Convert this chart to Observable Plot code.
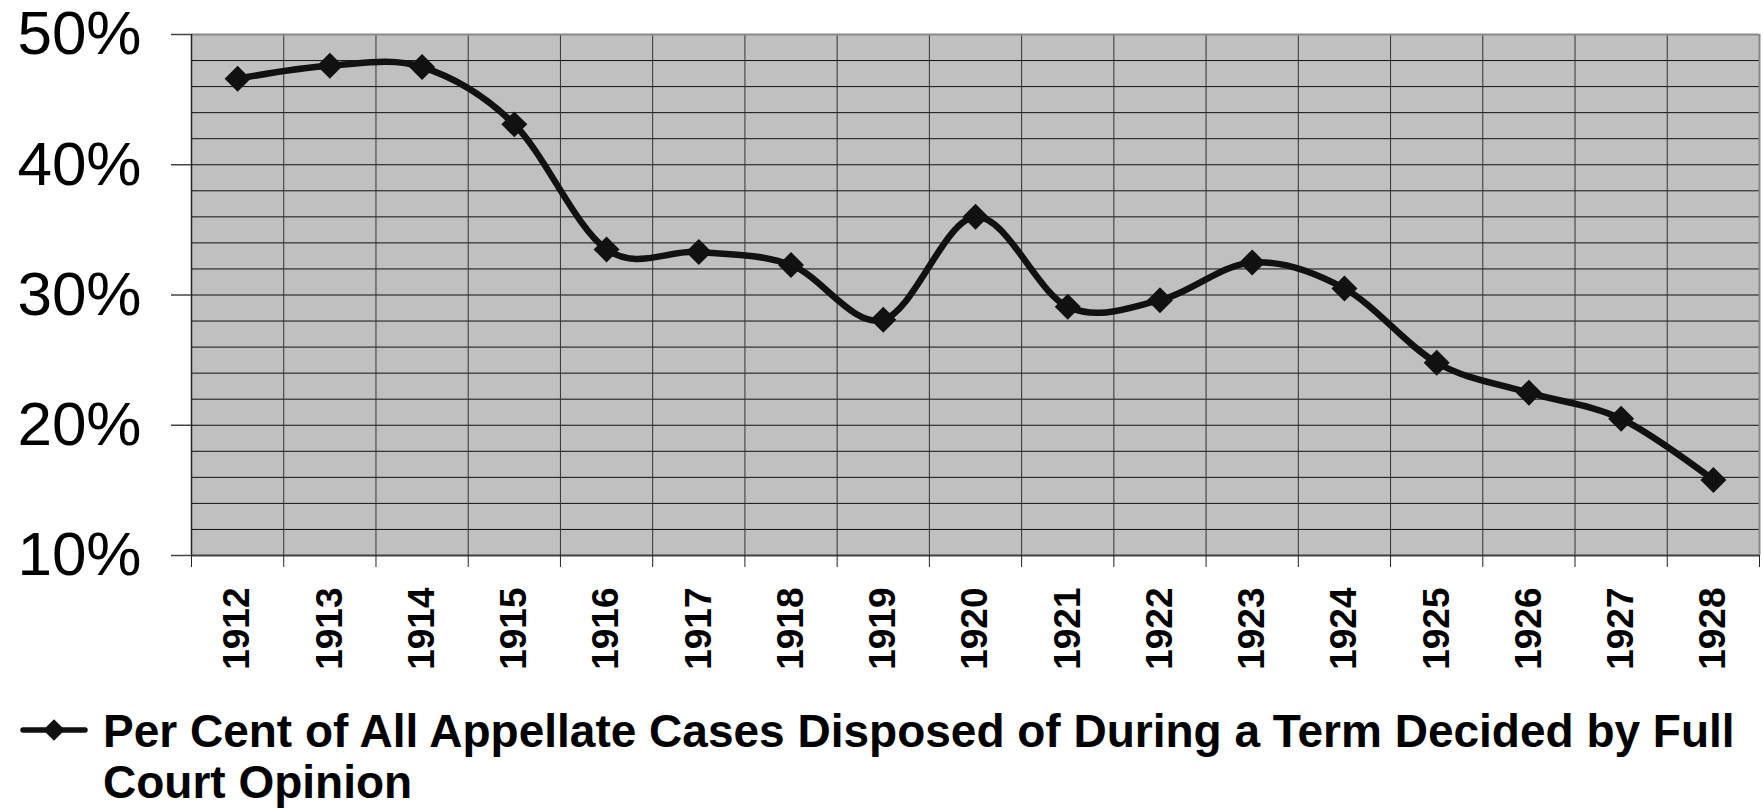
<!DOCTYPE html>
<html>
<head>
<meta charset="utf-8">
<script src="https://cdn.jsdelivr.net/npm/d3@7"></script>
<script src="https://cdn.jsdelivr.net/npm/@observablehq/plot@0.6"></script>
<style>
  html, body { margin: 0; padding: 0; background: #fff; }
  #chart svg { display: block; }
  #legend { position: relative; width: 1763px; height: 109px; font-family: "Liberation Sans", Arial, sans-serif; font-weight: bold; font-size: 46px; line-height: 51px; color: #000; }
  #legend .txt { position: absolute; left: 103px; top: 6px; white-space: nowrap; }
  #legend svg { position: absolute; left: 0; top: 0; }
</style>
</head>
<body>
<div id="chart"></div>
<div id="legend"></div>
<script>
const years = [1912, 1913, 1914, 1915, 1916, 1917, 1918, 1919, 1920, 1921, 1922, 1923, 1924, 1925, 1926, 1927, 1928];
const values = [46.6, 47.6, 47.5, 43.1, 33.5, 33.3, 32.3, 28.1, 36.0, 29.1, 29.6, 32.5, 30.5, 24.8, 22.5, 20.5, 15.8];
const yTicks = [10, 20, 30, 40, 50];
const seriesName = "Per Cent of All Appellate Cases Disposed of During a Term Decided by Full Court Opinion";
const legendLines = ["Per Cent of All Appellate Cases Disposed of During a Term Decided by Full", "Court Opinion"];

const data = years.map((year, i) => ({year, value: values[i], series: seriesName}));
const yMin = yTicks[0], yMax = yTicks[yTicks.length - 1];
const minorY = d3.range(yMin + 2, yMax, 2);
const xLo = years[0] - 0.5, xHi = years[years.length - 1] + 0.5;
const bounds = d3.range(xLo, xHi + 0.01, 1);
const innerBounds = bounds.slice(1, -1);

const chart = Plot.plot({
  width: 1763,
  height: 700,
  marginLeft: 191,
  marginRight: 4,
  marginTop: 34,
  marginBottom: 145,
  style: {background: "#fff", fontFamily: "'Liberation Sans', Arial, sans-serif", color: "#000"},
  x: {domain: [xLo, xHi], axis: null},
  y: {domain: [yMin, yMax], axis: null},
  marks: [
    Plot.frame({fill: "#c0c0c0", stroke: null}),
    Plot.ruleY(minorY, {stroke: "#111", strokeWidth: 1}),
    Plot.ruleX(innerBounds, {stroke: "#333", strokeWidth: 1}),
    Plot.ruleY([yMax], {stroke: "#888", strokeWidth: 2}),
    Plot.ruleX([xHi], {stroke: "#888", strokeWidth: 2}),
    Plot.ruleX([xLo], {stroke: "#222", strokeWidth: 1.5}),
    Plot.ruleY([yMin], {stroke: "#404040", strokeWidth: 2}),
    Plot.axisY(yTicks, {label: null, tickSize: 20, tickPadding: 30, fontSize: 62, tickFormat: d => d + "%", stroke: "#444", strokeWidth: 1.5}),
    Plot.axisX(bounds, {label: null, tickSize: 12, tickFormat: () => "", stroke: "#222"}),
    Plot.text(years, {x: d => d, frameAnchor: "bottom", dy: 32, rotate: -90, textAnchor: "end", lineAnchor: "middle", text: d => String(d), fontSize: 37, fontWeight: "bold", fill: "#000"}),
    Plot.line(data, {x: "year", y: "value", curve: "cardinal", stroke: "#111", strokeWidth: 6.5}),
    Plot.dot(data, {x: "year", y: "value", symbol: "diamond2", r: 11.7, fill: "#111", stroke: null})
  ]
});
document.getElementById("chart").appendChild(chart);

// legend
const legend = document.getElementById("legend");
const sw = d3.create("svg").attr("width", 100).attr("height", 60);
sw.append("line").attr("x1", 23).attr("x2", 85).attr("y1", 30).attr("y2", 30).attr("stroke", "#111").attr("stroke-width", 5.5).attr("stroke-linecap", "round");
sw.append("path").attr("d", d3.symbol(d3.symbolDiamond2, 300)()).attr("transform", "translate(54,30)").attr("fill", "#111");
legend.appendChild(sw.node());
const txt = document.createElement("div");
txt.className = "txt";
legendLines.forEach((l, i) => {
  if (i) txt.appendChild(document.createElement("br"));
  txt.appendChild(document.createTextNode(l));
});
legend.appendChild(txt);
</script>
</body>
</html>
